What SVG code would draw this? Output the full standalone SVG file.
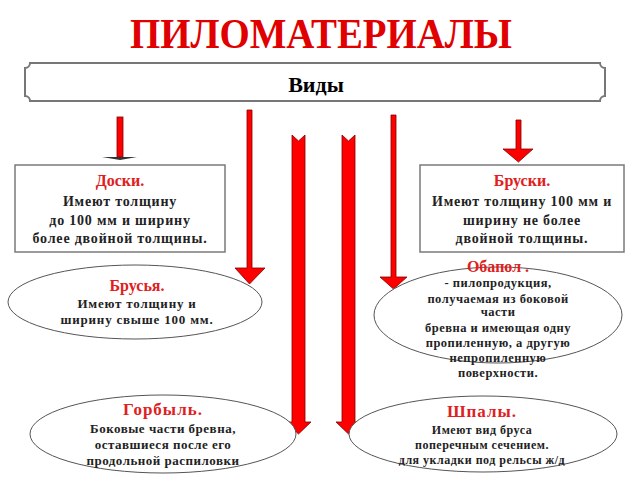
<svg xmlns="http://www.w3.org/2000/svg" width="640" height="480" viewBox="0 0 640 480">
<style>
text{font-family:"Liberation Serif","Times New Roman",serif;font-weight:bold;text-anchor:middle}
.title{fill:#e00000;font-size:42px}
.hdr{fill:#e02020;font-size:16px}
.body{fill:#222;font-size:14px;letter-spacing:0.8px}
.small{fill:#222;font-size:12.5px;letter-spacing:0.5px}
.box{fill:#fff;stroke:#7a7a7a;stroke-width:1.5}
.ell{fill:#fff;stroke:#555;stroke-width:1}
.arr{fill:#ff0000;stroke:#800000;stroke-width:0.8}
</style>
<rect width="640" height="480" fill="#fff"/>
<text class="title" x="321" y="48" textLength="382" lengthAdjust="spacingAndGlyphs">ПИЛОМАТЕРИАЛЫ</text>
<g id="vidy">
<path d="M30,63 H600 A5,5 0 0 0 605,68 V96 A5,5 0 0 0 600,101 H30 A5,5 0 0 0 25,96 V68 A5,5 0 0 0 30,63 Z" fill="#fff" stroke="#777" stroke-width="2"/>
<text x="316" y="92" style="font-size:22px;fill:#000">Виды</text>
</g>
<g id="connectors">
<rect class="arr" x="117" y="117" width="6" height="40"/>
<polygon points="102,157 137,157 120,160" fill="#333"/>
<polygon class="arr" points="247,110 252,110 252,268 265,268 249.5,284 235,268 247,268"/>
<polygon class="arr" points="292,135 298.5,141 305,135 305,422 311,422 298.5,434 286,422 292,422"/>
<polygon class="arr" points="342,135 348.5,141 355,135 355,422 361,422 348.5,434 336,422 342,422"/>
<polygon class="arr" points="391,115 396,115 396,277 407,277 393.5,289 380,277 391,277"/>
<polygon class="arr" points="516,120 521,120 521,149 533,149 518.5,162 503,149 516,149"/>
</g>
<g id="doski">
<rect class="box" x="15" y="165" width="210" height="87"/>
<text class="hdr" x="120" y="186">Доски.</text>
<text class="body" x="120" y="206">Имеют толщину</text>
<text class="body" x="120" y="225">до 100 мм и ширину</text>
<text class="body" x="120" y="243">более двойной толщины.</text>
</g>
<g id="bruski">
<rect class="box" x="420" y="165" width="204" height="87"/>
<text class="hdr" x="522" y="186">Бруски.</text>
<text class="body" x="522" y="206">Имеют толщину 100 мм и</text>
<text class="body" x="522" y="225">ширину не более</text>
<text class="body" x="522" y="243">двойной толщины.</text>
</g>
<g id="brusya">
<ellipse class="ell" cx="135" cy="302" rx="127" ry="37"/>
<text class="hdr" x="137" y="291">Брусья.</text>
<text class="body" x="137" y="308" style="font-size:13px">Имеют толщину и</text>
<text class="body" x="137" y="324" style="font-size:13px">ширину свыше 100 мм.</text>
</g>
<g id="obapol">
<ellipse class="ell" cx="498" cy="315" rx="124" ry="48"/>
<text class="hdr" x="498" y="272">Обапол .</text>
<text class="small" x="498" y="287">- пилопродукция,</text>
<text class="small" x="498" y="303">получаемая из боковой</text>
<text class="small" x="498" y="316">части</text>
<text class="small" x="498" y="332">бревна и имеющая одну</text>
<text class="small" x="498" y="347">пропиленную, а другую</text>
<text class="small" x="498" y="362">непропиленную</text>
<text class="small" x="498" y="377">поверхности.</text>
</g>
<g id="gorbyl">
<ellipse class="ell" cx="163" cy="434" rx="133" ry="39"/>
<text class="hdr" x="163" y="415" style="font-size:17px;letter-spacing:1px">Горбыль.</text>
<text class="small" x="163" y="433" style="font-size:13px">Боковые части бревна,</text>
<text class="small" x="163" y="449" style="font-size:13px">оставшиеся после его</text>
<text class="small" x="163" y="465" style="font-size:13px">продольной распиловки</text>
</g>
<g id="shpaly">
<ellipse class="ell" cx="483" cy="434" rx="134" ry="38"/>
<text class="hdr" x="482" y="417" style="font-size:17px;letter-spacing:1px">Шпалы.</text>
<text class="small" x="482" y="434" style="font-size:12px">Имеют вид бруса</text>
<text class="small" x="482" y="449" style="font-size:12px">поперечным сечением.</text>
<text class="small" x="482" y="464" style="font-size:12px">для укладки под рельсы ж/д</text>
</g>
</svg>
